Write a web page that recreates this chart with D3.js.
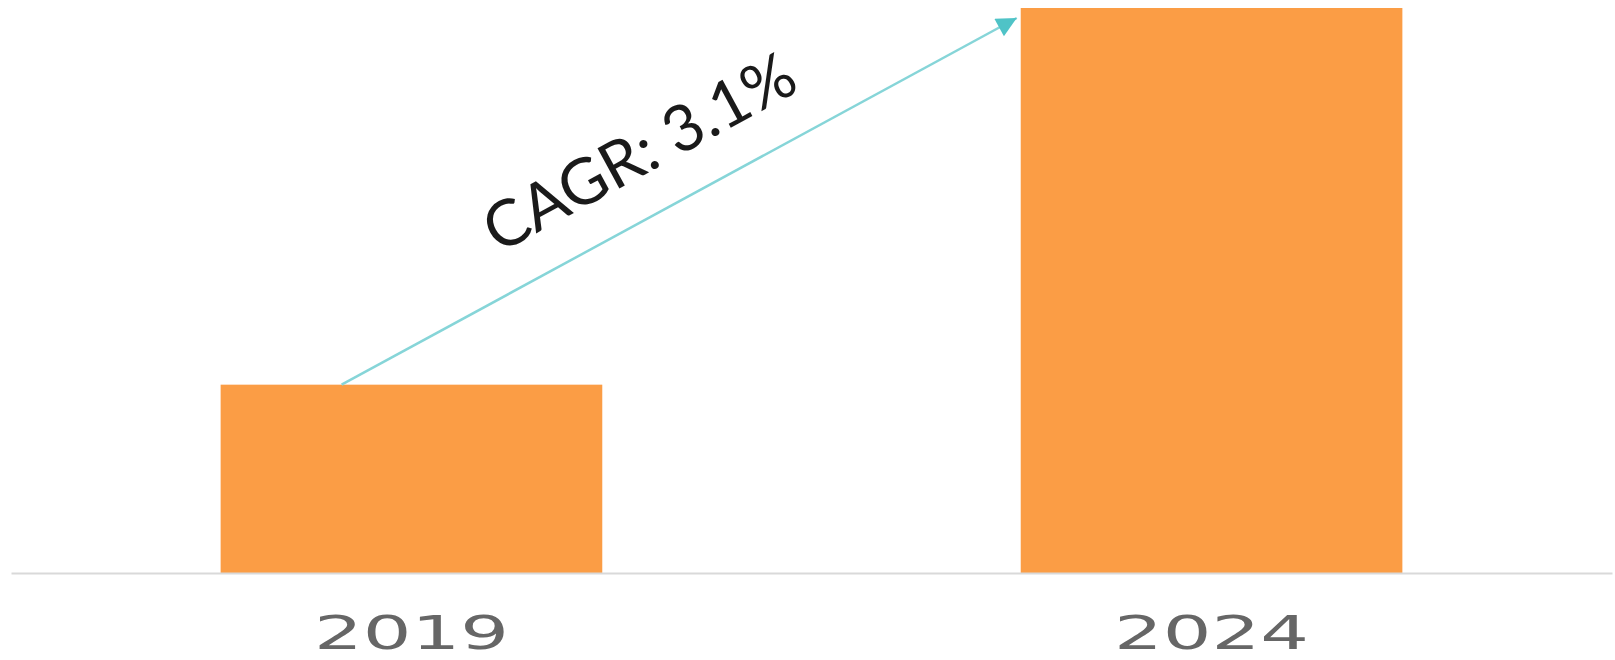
<!DOCTYPE html>
<html>
<head>
<meta charset="utf-8">
<script src="https://cdn.jsdelivr.net/npm/d3@7"></script>
<style>
  body { margin: 0; background: #fff; }
</style>
</head>
<body>
<script>
var years = ['2019', '2024'];
var values = [1.0, 3.0];
var cagrLabel = 'CAGR: 3.1%';

var width = 1615, height = 660;

var svg = d3.select("body").append("svg")
    .attr("width", width).attr("height", height);

var x = d3.scaleBand()
    .domain(years)
    .range([11, 1612])
    .paddingInner(0.523)
    .paddingOuter(0.262);

var y = d3.scaleLinear()
    .domain([0, 3.0])
    .range([573, 8]);

// bars
svg.selectAll("rect.bar")
    .data(values)
    .enter().append("rect")
      .attr("class", "bar")
      .attr("x", function(d, i){ return x(years[i]); })
      .attr("y", function(d){ return y(d); })
      .attr("width", x.bandwidth())
      .attr("height", function(d){ return y(0) - y(d); })
      .attr("fill", "#fb9d45");

// baseline axis
var xAxis = d3.axisBottom(x).tickSize(0).tickPadding(0);
var gx = svg.append("g")
    .attr("transform", "translate(0," + y(0) + ")")
    .call(xAxis);
gx.select(".domain").attr("stroke", "#d9d9d9").attr("stroke-width", 2);
gx.selectAll(".tick text")
    .attr("fill", "#666")
    .attr("font-family", "DejaVu Sans")
    .attr("font-size", 46)
    .attr("dy", 0)
    .attr("y", 76)
    .attr("textLength", 195)
    .attr("lengthAdjust", "spacingAndGlyphs");

// CAGR arrow from top of first bar to top of second bar
var x1 = x(years[0]) + x.bandwidth() * 0.317, y1 = y(values[0]);
var x2 = x(years[1]) - 4, y2 = y(values[1]) + 10;

svg.append("defs").append("marker")
    .attr("id", "head")
    .attr("viewBox", "0 0 10 10")
    .attr("refX", 10).attr("refY", 5)
    .attr("markerUnits", "userSpaceOnUse")
    .attr("markerWidth", 30).attr("markerHeight", 20)
    .attr("orient", "auto")
  .append("path")
    .attr("d", "M0,0 L10,5 L0,10 Z")
    .attr("fill", "#4fc3c7");

svg.append("line")
    .attr("x1", x1).attr("y1", y1)
    .attr("x2", x2).attr("y2", y2)
    .attr("stroke", "#86d5d8")
    .attr("stroke-width", 2.5)
    .attr("marker-end", "url(#head)");

var ang = Math.atan2(y2 - y1, x2 - x1) * 180 / Math.PI;
var mx = x1 + (x2 - x1) * 0.485, my = y1 + (y2 - y1) * 0.485;

svg.append("text")
    .attr("transform", "translate(" + mx + "," + my + ") rotate(" + ang + ")")
    .attr("text-anchor", "middle")
    .attr("dy", -40)
    .attr("font-family", "Lato")
    .attr("font-size", 64)
    .attr("fill", "#1a1a1a")
    .text(cagrLabel);
</script>
</body>
</html>
